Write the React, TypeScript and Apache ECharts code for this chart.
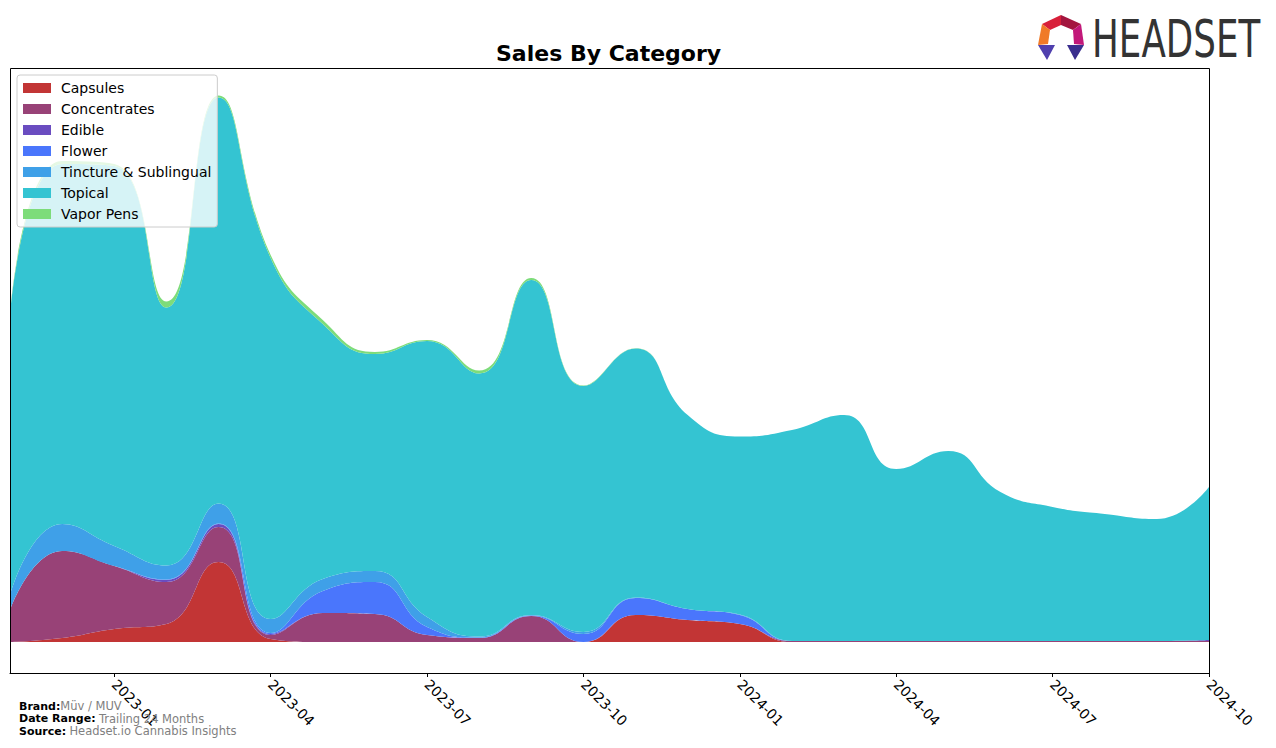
import React, { useEffect, useRef } from "react";
import * as echarts from "echarts";

const MONTHS = [
  "2022-11", "2022-12", "2023-01", "2023-02", "2023-03", "2023-04",
  "2023-05", "2023-06", "2023-07", "2023-08", "2023-09", "2023-10",
  "2023-11", "2023-12", "2024-01", "2024-02", "2024-03", "2024-04",
  "2024-05", "2024-06", "2024-07", "2024-08", "2024-09", "2024-10",
];

const CAPSULES = [0, 4, 13, 18, 80, 3, 0, 0, 0, 0, 0, 0, 27, 22, 18, 0, 0, 0, 0, 0, 0, 0, 0, 0];
const CONCENTRATES = [32, 87, 63, 42, 35, 4, 29, 28, 7, 4, 26, 0, 0, 0, 0, 1, 1, 1, 1, 1, 1, 1, 1, 1];
const EDIBLE = [0, 0, 0, 2, 3, 1, 0, 0, 0, 0, 0, 0, 0, 0, 0, 0, 0, 0, 0, 0, 0, 0, 0, 1];
const FLOWER = [0, 0, 0, 0.5, 0.5, 1, 22, 32, 8, 0.5, 0.5, 8, 17, 11, 9, 0, 0, 0, 0, 0, 0, 0, 0, 0];
const TINCTURE = [15, 27, 20, 14, 20, 14, 12, 11, 10, 1, 0.5, 2, 0.5, 0, 0.5, 0, 0, 0, 0, 0, 0, 0, 0, 0];
const TOPICAL = [281, 360, 380, 258, 406, 361, 255, 217, 276, 263, 335, 246, 249, 194, 178, 211, 226, 172, 190, 149, 134, 127, 122, 153];
const VAPOR = [2, 3, 2, 6, 2, 3, 4, 2, 1, 3, 2, 0.5, 0.3, 0, 0, 0, 0, 0, 0, 0, 0, 0, 0, 0];

const TICK_LABELS = ["2023-01", "2023-04", "2023-07", "2023-10", "2024-01", "2024-04", "2024-07", "2024-10"];

const SERIES_DEF = [
  { name: "Capsules", data: CAPSULES, color: "#c23535" },
  { name: "Concentrates", data: CONCENTRATES, color: "#984277" },
  { name: "Edible", data: EDIBLE, color: "#6a4cc0" },
  { name: "Flower", data: FLOWER, color: "#4a76fc" },
  { name: "Tincture & Sublingual", data: TINCTURE, color: "#3fa0e8" },
  { name: "Topical", data: TOPICAL, color: "#34c4d2" },
  { name: "Vapor Pens", data: VAPOR, color: "#7ddc7a" },
];

export default function App() {
  const ref = useRef<HTMLDivElement>(null);

  useEffect(() => {
    if (!ref.current) return;
    document.body.style.margin = "0";
    const chart = echarts.init(ref.current, null, { renderer: "svg" });
    const tickSet = new Set(TICK_LABELS);
    const showTick = (index: number) => tickSet.has(MONTHS[index]);

    const series = SERIES_DEF.map((s) => ({
      name: s.name,
      type: "line",
      stack: "total",
      smooth: 0.5,
      symbol: "none",
      showSymbol: false,
      lineStyle: { width: 0 },
      itemStyle: { color: s.color },
      areaStyle: { color: s.color, opacity: 1 },
      data: s.data,
    }));

    const option: any = {
      animation: false,
      title: {
        text: "Sales By Category",
        left: 496,
        top: 42,
        padding: 0,
        textStyle: { fontFamily: "DejaVu Sans", fontWeight: "bold", fontSize: 22, color: "#000" },
      },
      legend: {
        orient: "vertical",
        left: 17,
        top: 75,
        padding: [6, 6, 6, 6],
        itemWidth: 28,
        itemHeight: 10,
        itemGap: 7,
        icon: "rect",
        backgroundColor: "rgba(255,255,255,0.8)",
        borderColor: "#cccccc",
        borderWidth: 1,
        borderRadius: 3,
        textStyle: { fontFamily: "DejaVu Sans", fontSize: 14, color: "#000", lineHeight: 14, padding: [0, 0, 0, 5] },
        data: SERIES_DEF.map((s) => s.name),
      },
      grid: { left: 10, right: 67, top: 68, bottom: 75, containLabel: false },
      xAxis: {
        type: "category",
        boundaryGap: false,
        data: MONTHS,
        z: 10,
        axisLine: { show: true, onZero: false, lineStyle: { color: "#000", width: 1 } },
        axisTick: { show: true, length: 4, lineStyle: { color: "#000" }, interval: (i: number) => showTick(i) },
        axisLabel: {
          interval: (i: number) => showTick(i),
          rotate: -45,
          fontFamily: "DejaVu Sans",
          fontSize: 14,
          color: "#000",
          margin: 9,
        },
        splitLine: { show: false },
      },
      yAxis: {
        type: "value",
        min: -31,
        max: 574,
        axisLine: { show: false },
        axisTick: { show: false },
        axisLabel: { show: false },
        splitLine: { show: false },
      },
      series,
      graphic: [
        {
          type: "rect",
          z: 100,
          silent: true,
          shape: { x: 10.5, y: 68.5, width: 1199, height: 605 },
          style: { fill: "none", stroke: "#000", lineWidth: 1 },
        },
        {
          type: "text",
          left: 19,
          top: 700,
          z: 100,
          style: {
            text: "{b|Brand:}{g|Müv / MUV}\n{b|Date Range:} {g|Trailing 24 Months}\n{b|Source:} {g|Headset.io Cannabis Insights}",
            rich: {
              b: { fontFamily: "DejaVu Sans", fontWeight: "bold", fontSize: 11, fill: "#000", lineHeight: 12.5 },
              g: { fontFamily: "DejaVu Sans", fontSize: 11.5, fill: "#808080", lineHeight: 12.5 },
            },
          },
        },
        { type: "polygon", z: 100, shape: { points: [[1042, 24], [1061, 15], [1061, 25], [1050, 30]] }, style: { fill: "#d8203a" } },
        { type: "polygon", z: 100, shape: { points: [[1061, 15], [1081, 24], [1073, 30], [1061, 25]] }, style: { fill: "#a3163f" } },
        { type: "polygon", z: 100, shape: { points: [[1081, 24], [1084, 45], [1074, 44], [1073, 30]] }, style: { fill: "#c2187a" } },
        { type: "polygon", z: 100, shape: { points: [[1042, 24], [1050, 30], [1048, 44], [1038, 45]] }, style: { fill: "#f07a28" } },
        { type: "polygon", z: 100, shape: { points: [[1038, 45], [1055, 45], [1047, 60]] }, style: { fill: "#4f3fae" } },
        { type: "polygon", z: 100, shape: { points: [[1067, 45], [1084, 45], [1075, 60]] }, style: { fill: "#3a2e8e" } },
        {
          type: "text",
          z: 100,
          x: 1092,
          y: 14,
          scaleX: 0.7,
          style: {
            text: "HEADSET",
            fontFamily: "DejaVu Sans",
            fontSize: 51,
            fill: "#333333",
          },
        },
      ],
    };

    chart.setOption(option);
    return () => chart.dispose();
  }, []);

  return <div ref={ref} style={{ width: 1276, height: 748 }} />;
}
